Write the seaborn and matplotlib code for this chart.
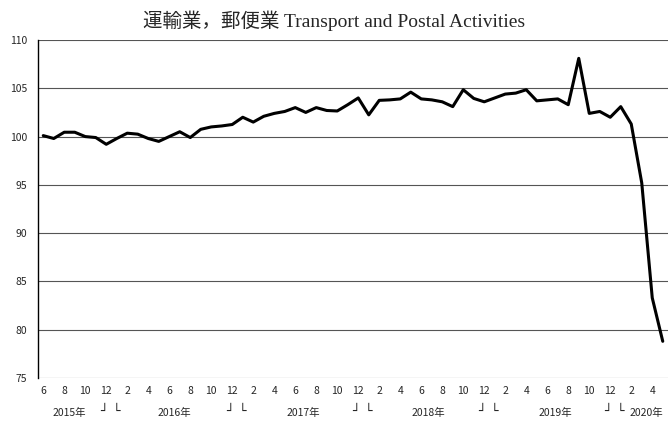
import matplotlib
matplotlib.use("Agg")
import matplotlib.pyplot as plt
import seaborn as sns
import pandas as pd
import numpy as np

# Monthly index, Jun 2015 - May 2020
months = [6, 7, 8, 9, 10, 11, 12] + list(range(1, 13)) * 4 + [1, 2, 3, 4, 5]
values = [
    100.1, 99.8, 100.45, 100.45, 100.0, 99.9, 99.2,            # 2015
    99.8, 100.35, 100.25, 99.8, 99.5, 100.0, 100.5, 99.9,       # 2016 Jan-Aug
    100.75, 101.0, 101.1, 101.25,                               # 2016 Sep-Dec
    102.0, 101.5, 102.1, 102.4, 102.6, 103.0, 102.5, 103.0,     # 2017 Jan-Aug
    102.7, 102.65, 103.3, 104.0,                                # 2017 Sep-Dec
    102.25, 103.75, 103.8, 103.9, 104.6, 103.9, 103.8, 103.6,   # 2018 Jan-Aug
    103.1, 104.85, 103.95, 103.6,                               # 2018 Sep-Dec
    104.0, 104.4, 104.5, 104.85, 103.7, 103.8, 103.9, 103.3,    # 2019 Jan-Aug
    108.1, 102.4, 102.6, 102.0,                                 # 2019 Sep-Dec
    103.1, 101.3, 95.2, 83.3, 78.8,                             # 2020 Jan-May
]
years = ["2015年", "2016年", "2017年", "2018年", "2019年", "2020年"]
year_pos = [2.5, 12.5, 24.8, 36.7, 48.8, 57.4]
dec_pos = [6, 18, 30, 42, 54]

df = pd.DataFrame({"t": np.arange(len(values)), "value": values})

sns.set_style("white")
plt.rcParams["font.family"] = ["Noto Sans CJK JP", "DejaVu Sans"]

fig = plt.figure(figsize=(6.68, 4.24), dpi=100)
ax = fig.add_axes([38 / 668, 46 / 424, 630 / 668, 338 / 424])

sns.lineplot(data=df, x="t", y="value", ax=ax, color="black", linewidth=2.2)

ax.set_xlim(-0.5, len(values) - 0.5)
ax.set_ylim(75, 110)
ax.set_yticks(range(75, 111, 5))
for y in range(75, 111, 5):
    ax.axhline(y, color="#555555", linewidth=0.8, zorder=0)

ax.set_xticks(df["t"][::2])
ax.set_xticklabels([str(m) for m in months[::2]], fontsize=7.5)
ax.tick_params(axis="x", length=0, pad=6)
ax.tick_params(axis="y", length=0, pad=8, labelsize=7.5)
ax.set_xlabel("")
ax.set_ylabel("")

for side in ["top", "right", "bottom"]:
    ax.spines[side].set_visible(False)
ax.spines["left"].set_color("black")
ax.spines["left"].set_linewidth(1.0)

# year labels and bracket marks below month labels
xt = ax.get_xaxis_transform()
for yr, pos in zip(years, year_pos):
    ax.text(pos, -0.103, yr, transform=xt, ha="center", va="center", fontsize=7.5)
for pos in dec_pos:
    ax.text(pos - 0.2, -0.1, "┘", transform=xt, ha="center", va="center",
            fontsize=9, family="DejaVu Sans")
    ax.text(pos + 1.0, -0.1, "└", transform=xt, ha="center", va="center",
            fontsize=9, family="DejaVu Sans")

fig.text(0.5, 0.952, "運輸業，郵便業 Transport and Postal Activities",
         ha="center", va="center", fontsize=14,
         family=["Liberation Serif", "Noto Sans CJK JP"])

fig.savefig("out.png", dpi=100)
